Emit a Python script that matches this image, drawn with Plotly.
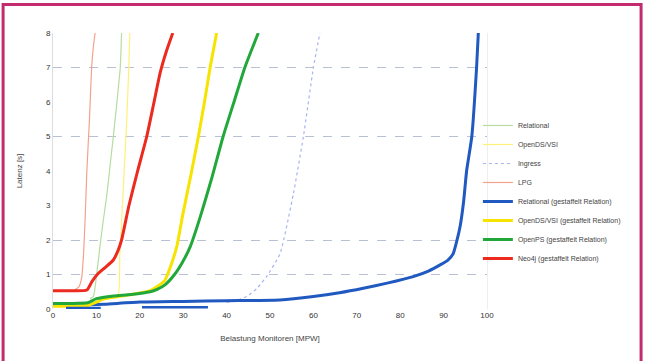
import plotly.graph_objects as go

# ---- data ----
thin_salmon_x = [5.0, 6.0, 6.6, 7.0, 7.4, 7.8, 8.4, 8.9, 9.3, 9.7]
thin_salmon_y = [0.55, 0.65, 0.9, 1.5, 2.6, 4.0, 5.5, 7.0, 7.6, 8.0]

thin_green_x = [8.5, 9.3, 10.1, 10.8, 11.6, 12.4, 13.1, 13.9, 14.7, 15.5, 15.8]
thin_green_y = [0.3, 0.36, 1.04, 1.8, 2.58, 3.3, 4.1, 5.0, 5.96, 7.0, 8.0]

thin_yellow_x = [14.5, 15.1, 15.4, 15.8, 16.2, 16.6, 17.0, 17.4, 17.7]
thin_yellow_y = [0.4, 0.45, 1.6, 2.5, 3.5, 4.5, 5.5, 6.8, 8.0]

thin_blue_x = [40.0, 41.6, 44.6, 47.0, 49.2, 52.3, 55.4, 57.7, 60.0, 61.5]
thin_blue_y = [0.2, 0.22, 0.36, 0.6, 0.94, 1.6, 3.35, 5.0, 7.0, 8.0]

bold_red_x = [0, 4, 7.8, 9.0, 10.4, 12.0, 13.9, 15.0, 15.8, 17.5, 19.5, 21.6, 23.2, 24.7, 26.2, 27.6]
bold_red_y = [0.53, 0.53, 0.55, 0.8, 1.03, 1.2, 1.42, 1.7, 2.0, 3.0, 4.0, 5.0, 5.95, 6.85, 7.5, 8.0]

bold_yellow_x = [0, 4, 8, 10, 12, 15, 18, 22.4, 24.0, 25.8, 27.0, 28.5, 30.0, 31.8, 33.5, 34.9, 36.2, 37.7]
bold_yellow_y = [0.08, 0.08, 0.1, 0.2, 0.3, 0.36, 0.42, 0.53, 0.65, 0.84, 1.2, 1.8, 2.8, 3.9, 5.0, 6.0, 7.0, 8.0]

bold_green_x = [0, 4, 8, 10, 14, 18, 22.4, 24.0, 25.8, 28.0, 29.8, 31.6, 34.0, 36.6, 39.2, 41.7, 44.2, 47.3]
bold_green_y = [0.16, 0.16, 0.18, 0.3, 0.38, 0.42, 0.5, 0.57, 0.7, 1.0, 1.35, 1.8, 2.7, 3.8, 5.0, 6.0, 7.0, 8.0]

bold_blue_x = [8, 12, 20, 30, 40, 52.3, 60.0, 66.0, 71.5, 77.0, 83.0, 86.5, 89.2, 91.0, 92.2, 93.0, 93.8, 94.6, 95.3, 96.5, 97.6, 98.0]
bold_blue_y = [0.12, 0.14, 0.2, 0.22, 0.24, 0.26, 0.36, 0.47, 0.6, 0.75, 0.94, 1.1, 1.28, 1.42, 1.6, 1.95, 2.39, 3.1, 4.0, 5.0, 7.0, 8.0]

blue_base_x = [3, 11, None, 20.5, 35.7]
blue_base_y = [0.03, 0.03, None, 0.05, 0.05]

names = [
    "Relational",
    "OpenDS/VSI",
    "Ingress",
    "LPG",
    "Relational (gestaffelt Relation)",
    "OpenDS/VSI (gestaffelt Relation)",
    "OpenPS (gestaffelt Relation)",
    "Neo4j (gestaffelt Relation)",
]

x_ticks = [0, 10, 20, 30, 40, 50, 60, 70, 80, 90, 100]
y_ticks = [0, 1, 2, 3, 4, 5, 6, 7, 8]
grid_levels = [1, 2, 5, 7]

fig = go.Figure()

def add(x, y, name, color, width, dash="solid", show=True):
    fig.add_trace(go.Scatter(x=x, y=y, mode="lines", name=name, showlegend=show,
                             line=dict(color=color, width=width, dash=dash,
                                       shape="spline", smoothing=0.5)))

add(thin_green_x, thin_green_y, names[0], "#b6dca0", 1.2)
add(thin_yellow_x, thin_yellow_y, names[1], "#fff07a", 1.2)
add(thin_blue_x, thin_blue_y, names[2], "#a9b4ec", 1.2, "dot")
add(thin_salmon_x, thin_salmon_y, names[3], "#f5a28c", 1.2)
add(bold_blue_x, bold_blue_y, names[4], "#2059c0", 3)
add(bold_yellow_x, bold_yellow_y, names[5], "#f6e400", 3)
add(bold_green_x, bold_green_y, names[6], "#22a83a", 3)
add(bold_red_x, bold_red_y, names[7], "#ec2a1e", 3)
add(blue_base_x, blue_base_y, "", "#2059c0", 2.5, show=False)

fig.update_layout(
    width=645, height=361,
    margin=dict(l=53, r=158, t=33, b=52, autoexpand=False),
    paper_bgcolor="white", plot_bgcolor="white",
    font=dict(family="Liberation Sans, Arial, sans-serif", size=8, color="#333"),
    legend=dict(x=0.979, y=0.424, xanchor="left", yanchor="middle",
                font=dict(size=7, color="#444"), bgcolor="rgba(0,0,0,0)",
                tracegroupgap=0, itemwidth=30),
    xaxis=dict(range=[0, 100], tickvals=x_ticks, showgrid=False, zeroline=False,
               showline=False, ticks="", tickfont=dict(size=8, color="#333"),
               title=dict(text="Belastung Monitoren [MPW]", font=dict(size=8, color="#444"), standoff=16)),
    yaxis=dict(range=[0, 8], tickvals=y_ticks, showgrid=False, zeroline=False,
               showline=True, linecolor="#dddddd", linewidth=1, ticks="",
               tickfont=dict(size=8, color="#333"),
               title=dict(text="Latenz [s]", font=dict(size=8, color="#444"), standoff=22)),
    yaxis2=dict(range=[0, 8], overlaying="y", tickvals=grid_levels, showticklabels=False,
                showgrid=True, gridcolor="#b8c0d4", griddash="dash", gridwidth=1,
                zeroline=False, showline=True, linecolor="#eeeeee", side="right"),
    shapes=[dict(type="rect", xref="paper", yref="paper",
                 x0=-0.115, x1=1.355, y0=-0.4, y1=1.103,
                 line=dict(color="#c42b6f", width=3), fillcolor="rgba(0,0,0,0)")],
)
# invisible trace that activates the dashed gridlines of yaxis2
fig.add_trace(go.Scatter(x=[None], y=[None], yaxis="y2", showlegend=False, hoverinfo="skip"))

fig.write_html("out.html", config={"displayModeBar": False},
               post_script="document.body.style.margin='0';")
